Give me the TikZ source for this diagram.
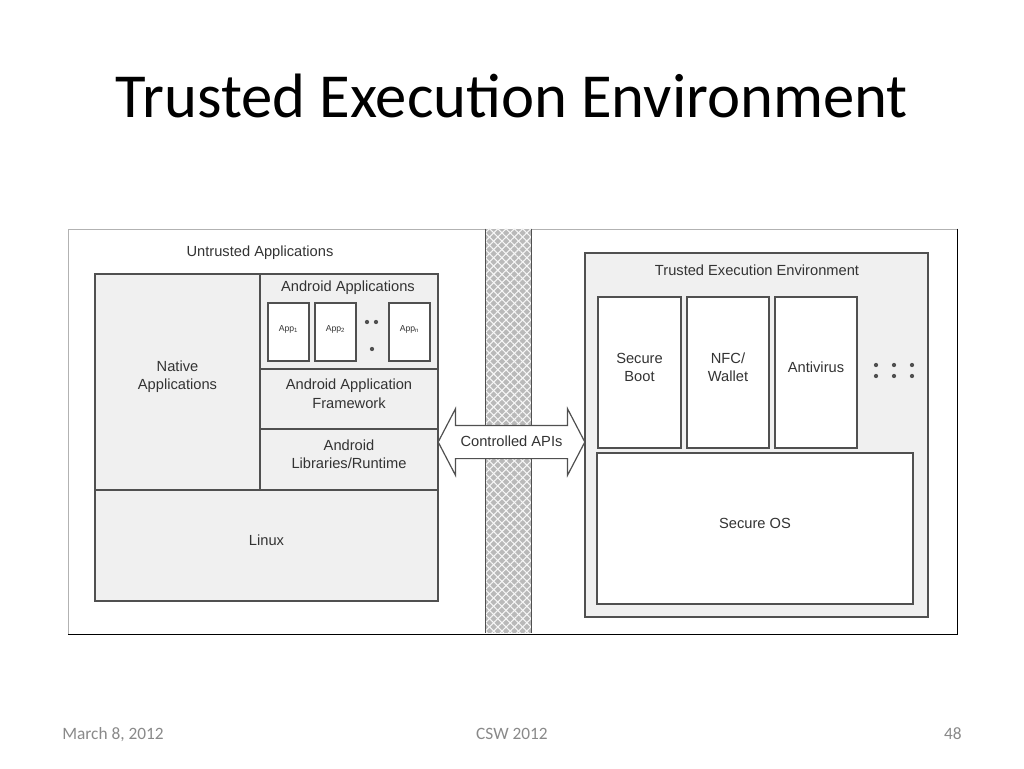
\documentclass[tikz,border=0pt]{standalone}
\usepackage{fontspec}
\setmainfont{Carlito}
\newfontfamily\diagfont{Liberation Sans}
\usetikzlibrary{shapes.arrows, positioning, fit, patterns.meta}
\definecolor{boxgray}{RGB}{240, 240, 240}
\definecolor{edgegray}{RGB}{80, 80, 80}
\definecolor{textgray}{RGB}{51, 51, 51}
\definecolor{footgray}{RGB}{137, 137, 137}
\definecolor{wallgray}{RGB}{185, 185, 185}
\tikzset{
    layer/.style={rectangle, draw=edgegray, line width=0.9pt, fill=boxgray, inner sep=0pt, align=center, text=textgray, font=\diagfont\fontsize{11}{14}\selectfont},
    module/.style={layer, fill=white},
    caption/.style={text=textgray, font=\diagfont\fontsize{11}{14}\selectfont, inner sep=0pt},
    appbox/.style={module, font=\diagfont\fontsize{6.5}{8}\selectfont},
    footer/.style={text=footgray, font=\fontsize{13}{15}\selectfont, inner sep=0pt}
}

\begin{document}
\begin{tikzpicture}[
    x=0.75pt, y=-0.75pt,
    appdot/.style={fill=edgegray}
]
    \useasboundingbox (0,0) rectangle (1024,768);

    % --- TITLE ---
    \node[font=\fontsize{47}{50}\selectfont, anchor=base, inner sep=0pt] (title) at (512,117) {Trusted Execution Environment};

    % --- FRAME AND WALL ---
    \node[fit={(68,229) (957,634)}, inner sep=0pt, draw=gray!60, line width=0.6pt] (frame) {};
    \node[fit={(486,229) (531,633)}, inner sep=0pt, fill=wallgray] (wall) {};
    \fill[pattern={Lines[angle=45, distance=4.4pt, line width=0.8pt]}, pattern color=white!94!gray] (wall.south west) rectangle (wall.north east);
    \fill[pattern={Lines[angle=-45, distance=4.4pt, line width=0.8pt]}, pattern color=white!94!gray] (wall.south west) rectangle (wall.north east);
    \draw[edgegray, line width=1pt] (wall.north west) -- (wall.south west) (wall.north east) -- (wall.south east);
    \draw[black, line width=1.2pt] (frame.north east) -- (frame.south east) -- (frame.south west);

    % --- UNTRUSTED SIDE ---
    \node[caption] (untrusted) at (260,253) {Untrusted Applications};
    \node[layer, fit={(95,274) (260,490)}] (native) {Native\\Applications};
    \node[layer, fit={(260,274) (438,369)}] (androidapps) {};
    \node[caption] (androidlabel) at (348,288) {Android Applications};
    \node[appbox, fit={(268,303) (309,361)}] (app1) {App\textsubscript{1}};
    \node[appbox, fit={(315,303) (356,361)}] (app2) {App\textsubscript{2}};
    \node[appbox, fit={(389,303) (430,361)}] (appn) {App\textsubscript{n}};
    \fill[appdot] (367,322) circle (1.6pt);
    \fill[appdot] (376,322) circle (1.6pt);
    \fill[appdot] (372,349) circle (1.6pt);
    \node[layer, fit={(260,369) (438,429)}] (framework) {Android Application\\Framework};
    \node[layer, fit={(260,429) (438,490)}] (runtime) {Android\\Libraries/Runtime};
    \node[layer, fit={(95,490) (438,601)}] (linux) {Linux};

    % Controlled APIs across the wall
    \node[double arrow, draw=edgegray, line width=0.9pt, fill=white, caption, inner xsep=2pt, inner ysep=7pt, text height=8pt, text depth=2pt, double arrow head extend=12.4pt, double arrow tip angle=125, minimum height=110pt] (api) at (511.5,442) {Controlled APIs};

    % --- TRUSTED SIDE ---
    \node[layer, fit={(585,253) (928,617)}] (tee) {};
    \node[caption] (teelabel) at (757,270) {Trusted Execution Environment};
    \node[module, fit={(598,297) (681,448)}] (secboot) {Secure\\Boot};
    \node[module, fit={(687,297) (769,448)}] (wallet) {NFC/\\Wallet};
    \node[module, fit={(775,297) (857,448)}] (antivirus) {Antivirus};
    \foreach \dx in {876,894,912}
        \foreach \dy in {365,376}
            \fill[appdot] (\dx,\dy) circle (1.6pt);
    \node[module, fit={(597,453) (913,604)}] (secos) {Secure OS};

    % --- FOOTER ---
    \node[footer, anchor=base west] (date) at (62,739) {March 8, 2012};
    \node[footer, anchor=base] (event) at (512,739) {CSW 2012};
    \node[footer, anchor=base east] (page) at (962,739) {48};
\end{tikzpicture}
\end{document}
